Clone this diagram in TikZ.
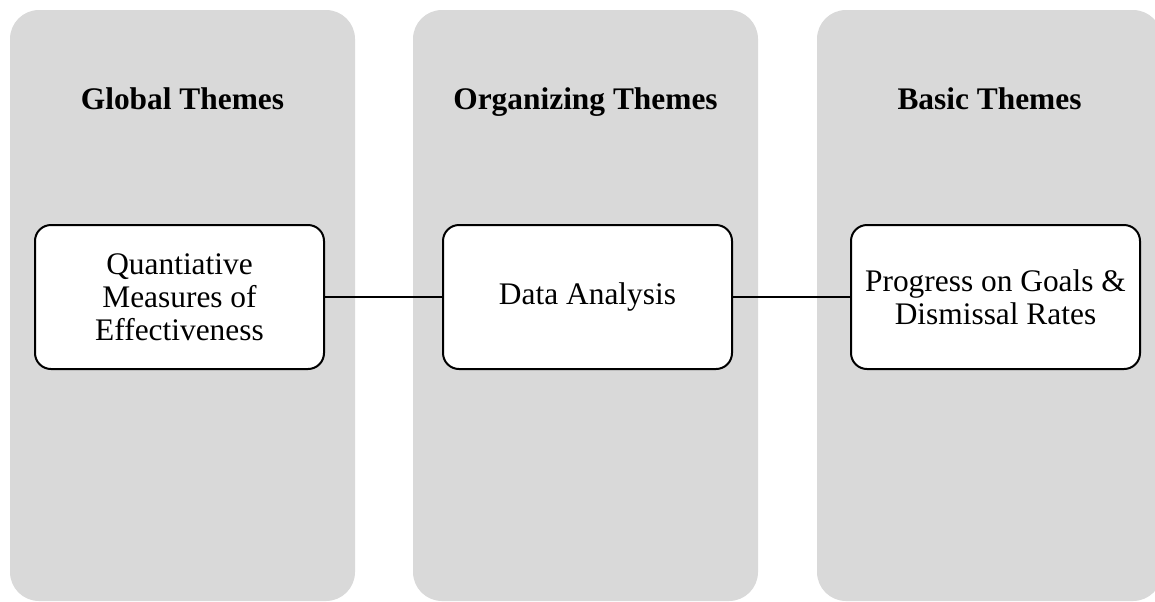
\documentclass[tikz,border=0pt]{standalone}
\usepackage{fontspec}
\setmainfont{Liberation Serif}

\definecolor{colgray}{HTML}{D9D9D9}

\tikzset{
    column/.style={fill=colgray, rounded corners=14.5pt, minimum width=172.5pt, minimum height=295.5pt, inner sep=0pt},
    heading/.style={anchor=base, font=\fontsize{15.7}{16.5}\selectfont\bfseries},
    themebox/.style={draw, line width=1pt, fill=white, rounded corners=8pt, minimum width=144.5pt, minimum height=72pt, align=center, inner sep=2pt, font=\fontsize{15.7}{16.5}\selectfont},
    link/.style={line width=1pt}
}

\begin{document}
\begin{tikzpicture}[x=0.5pt, y=-0.5pt]
    \useasboundingbox (0, 0) rectangle (1155, 601);

    % Columns
    \node[column] (colglobal) at (182.5, 305.5) {};
    \node[column] (colorg) at (585.5, 305.5) {};
    \node[column] (colbasic) at (989.5, 305.5) {};

    % Headings
    \node[heading] (global) at (182.5, 109.5) {Global Themes};
    \node[heading] (organizing) at (585.5, 109.5) {Organizing Themes};
    \node[heading] (basic) at (989.5, 109.5) {Basic Themes};

    % Themes
    \node[themebox] (quant) at (179.5, 297) {Quantiative\\Measures of\\Effectiveness};
    \node[themebox] (data) at (587.5, 297) {Data Analysis};
    \node[themebox] (prog) at (995.5, 297) {Progress on Goals \&\\Dismissal Rates};

    % Links
    \draw[link] (quant) -- (data);
    \draw[link] (data) -- (prog);

\end{tikzpicture}
\end{document}
